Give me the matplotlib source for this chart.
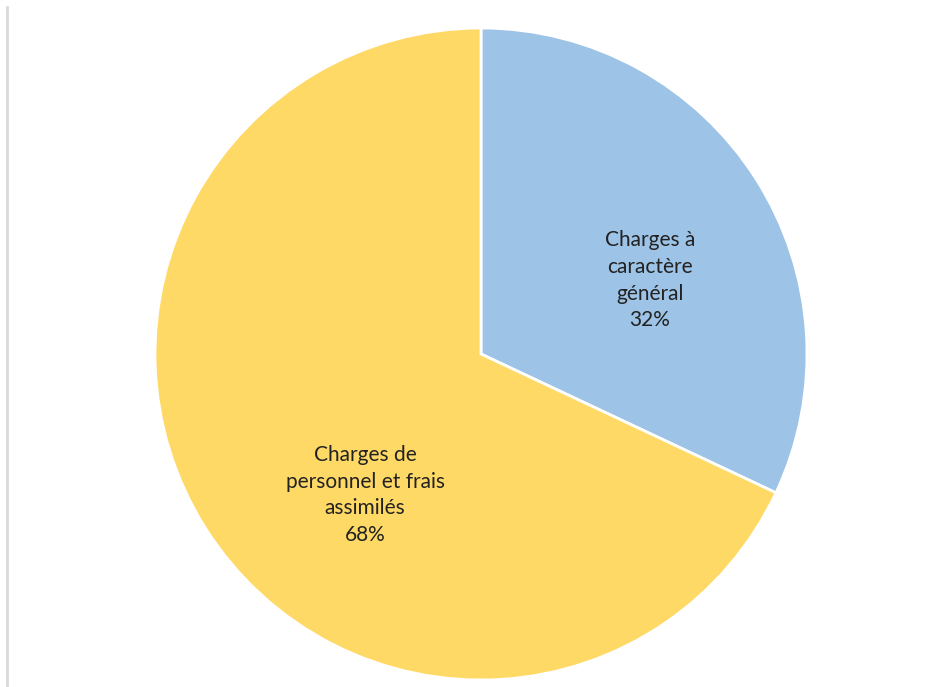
import numpy as np
import matplotlib.pyplot as plt
from matplotlib.lines import Line2D

# parts of the operating expenses
labels = ["Charges à\ncaractère\ngénéral", "Charges de\npersonnel et frais\nassimilés"]
shares = [32, 68]
colors = ["#9DC3E6", "#FFD966"]
# where each label sits inside its wedge (degrees, fraction of radius)
label_angles = [23.6, -129.4]
label_radius = [0.565, 0.56]

fig = plt.figure(figsize=(9.34, 6.87), dpi=100)
ax = fig.add_axes([155 / 934, 7 / 687, 652 / 934, 652 / 687])

ax.pie(shares, colors=colors, startangle=90, counterclock=False,
       wedgeprops=dict(edgecolor="white", linewidth=2))
ax.set_xlim(-1.0, 1.0)
ax.set_ylim(-1.0, 1.0)
ax.set_aspect("equal")
ax.axis("off")

for lab, val, ang, r in zip(labels, shares, label_angles, label_radius):
    t = np.deg2rad(ang)
    ax.text(r * np.cos(t), r * np.sin(t), "%s\n%d%%" % (lab, val),
            ha="center", va="center", fontsize=15, family="Lato",
            color="#222222", linespacing=1.42)

# thin frame line on the left
fig.add_artist(Line2D([7 / 934, 7 / 934], [0, 680 / 687],
                      transform=fig.transFigure, color="#d9d9d9", linewidth=2))

fig.savefig("out.png", dpi=100)
